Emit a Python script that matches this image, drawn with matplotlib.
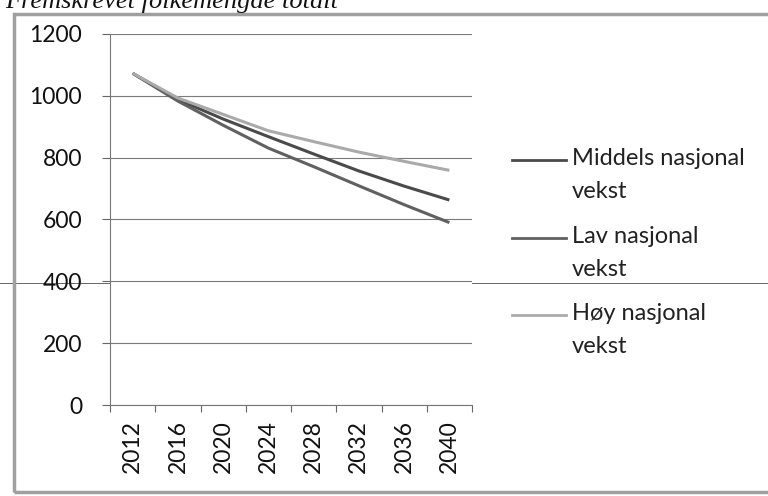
import numpy as np
import matplotlib
matplotlib.use("Agg")
import matplotlib.pyplot as plt
from matplotlib.lines import Line2D
from matplotlib.patches import Rectangle

plt.rcParams["font.family"] = ["Lato", "DejaVu Sans"]

# data
years = ["2012", "2016", "2020", "2024", "2028", "2032", "2036", "2040"]
middels = [1073, 988, 925, 868, 812, 757, 708, 663]
lav = [1073, 983, 905, 831, 771, 709, 648, 590]
hoy = [1073, 993, 940, 887, 852, 818, 788, 759]

series_names = ["Middels nasjonal\nvekst", "Lav nasjonal\nvekst", "Høy nasjonal\nvekst"]
series_values = [middels, lav, hoy]
series_colors = ["#4a4a4a", "#606060", "#aaaaaa"]

y_ticks = [0, 200, 400, 600, 800, 1000, 1200]

W, H = 768, 496
fig = plt.figure(figsize=(W / 100, H / 100), dpi=100)
fig.patch.set_facecolor("white")

# axes box in pixels: x 110..472, y 34..405
ax = fig.add_axes([110 / W, (H - 405) / H, 362 / W, 371 / H])

x = np.arange(len(years))
for vals, col in zip(series_values, series_colors):
    ax.plot(x, vals, color=col, lw=2.2, solid_capstyle="butt", zorder=3)

ax.set_ylim(0, 1200)
ax.set_xlim(-0.5, len(years) - 0.5)
ax.set_yticks(y_ticks)
ax.set_yticklabels([str(v) for v in y_ticks], fontsize=16.5, color="#111")
ax.set_xticks(x)
ax.set_xticklabels(years, rotation=90, fontsize=16.5, color="#111")
ax.set_xticks(np.arange(-0.5, len(years)), minor=True)
ax.tick_params(axis="x", which="major", length=0, pad=11)
ax.tick_params(axis="x", which="minor", length=5, color="#666", width=0.8)
ax.tick_params(axis="y", length=6, color="#666", width=0.8, pad=14)

ax.grid(axis="y", color="#7a7a7a", lw=0.8)
ax.set_axisbelow(True)
for s in ["top", "right"]:
    ax.spines[s].set_visible(False)
for s in ["left", "bottom"]:
    ax.spines[s].set_color("#777")
    ax.spines[s].set_linewidth(0.8)

# legend drawn to the right, handle beside the first line of each label
leg_y = [160, 238, 315]
for name, col, yy in zip(series_names, series_colors, leg_y):
    fy = 1 - yy / H
    fig.add_artist(Line2D([512 / W, 566 / W], [fy, fy], color=col, lw=2.0,
                          transform=fig.transFigure))
    fig.text(572 / W, 1 - (yy - 12) / H, name, fontsize=17, color="#222",
             va="top", ha="left", linespacing=1.7)

# chart frame and title of the page (cut off at the top of the scan)
fig.add_artist(Rectangle((14 / W, 1 - 492 / H), (W + 20) / W, (492 - 14) / H,
                         transform=fig.transFigure, fill=False,
                         edgecolor="#a0a0a0", lw=2.5))
fig.add_artist(Line2D([0, 1], [1 - 283 / H, 1 - 283 / H], color="#666",
                      lw=0.7, transform=fig.transFigure, zorder=0))
fig.text(5 / W, 1 - 8 / H, "Fremskrevet folkemengde totalt",
         family=["Liberation Serif", "DejaVu Serif"], style="italic",
         fontsize=19, va="baseline", ha="left", color="#111")

fig.savefig("out.png", dpi=100, facecolor="white")
